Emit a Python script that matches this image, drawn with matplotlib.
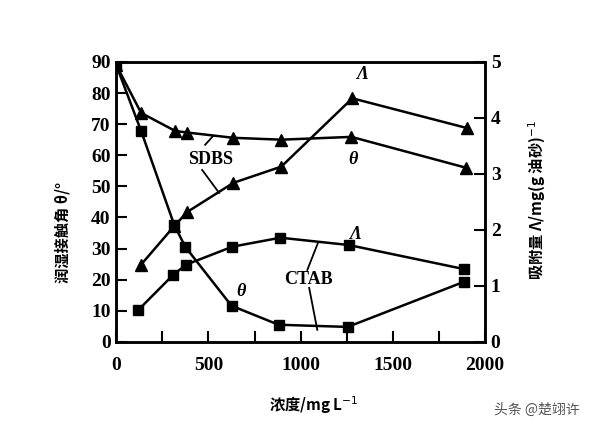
import matplotlib
matplotlib.use("Agg")
import matplotlib.pyplot as plt
from matplotlib.ticker import MultipleLocator

plt.rcParams['font.family'] = ['Liberation Serif', 'Noto Sans CJK SC', 'DejaVu Sans']

# concentration, mg/L
sdbs_x = [0, 135, 320, 385, 635, 895, 1275, 1895]
# SDBS contact angle (deg)
sdbs_theta = [89, 73.6, 67.8, 67.3, 65.6, 65.0, 65.9, 56.0]
# SDBS adsorption (mg/g), starts at first nonzero concentration
sdbs_lam_x = [135, 315, 385, 635, 895, 1280, 1900]
sdbs_lam = [1.38, 2.07, 2.32, 2.84, 3.13, 4.35, 3.82]

ctab_x = [0, 135, 315, 375, 625, 880, 1255, 1885]
ctab_theta = [89, 67.8, 37.5, 30.5, 11.6, 5.5, 4.8, 19.3]
ctab_lam_x = [120, 310, 380, 630, 890, 1260, 1885]
ctab_lam = [0.57, 1.2, 1.38, 1.70, 1.86, 1.73, 1.30]

fig = plt.figure(figsize=(5.96, 4.30), dpi=100)
ax = fig.add_axes([0.195, 0.205, 0.619, 0.651])
ax2 = ax.twinx()

lw = 1.8
ax.plot(sdbs_x, sdbs_theta, color='black', lw=lw, marker='^', ms=8)
ax.plot(ctab_x, ctab_theta, color='black', lw=lw, marker='s', ms=7)
ax2.plot(sdbs_lam_x, sdbs_lam, color='black', lw=lw, marker='^', ms=8)
ax2.plot(ctab_lam_x, ctab_lam, color='black', lw=lw, marker='s', ms=7)

ax.set_xlim(0, 2000)
ax.set_ylim(0, 90)
ax2.set_ylim(0, 5)
ax.xaxis.set_major_locator(MultipleLocator(500))
ax.xaxis.set_minor_locator(MultipleLocator(250))
ax.yaxis.set_major_locator(MultipleLocator(10))
ax2.yaxis.set_major_locator(MultipleLocator(1))

ax.tick_params(axis='both', which='both', direction='in', width=1.5)
ax.tick_params(axis='y', which='major', length=8, pad=4)
ax.tick_params(axis='x', which='both', length=8, pad=11, top=False)
ax2.tick_params(axis='y', direction='in', length=8, width=1.5, pad=4)
for lab in ax.get_xticklabels() + ax.get_yticklabels() + ax2.get_yticklabels():
    lab.set_fontsize(14)
    lab.set_fontweight('bold')

for sp in ax.spines.values():
    sp.set_linewidth(1.8)
for sp in ax2.spines.values():
    sp.set_linewidth(1.8)

# curve labels
ax.text(0.255, 0.65, 'SDBS', transform=ax.transAxes, fontsize=13,
        fontweight='bold', ha='center', va='center')
ax.text(0.52, 0.221, 'CTAB', transform=ax.transAxes, fontsize=13,
        fontweight='bold', ha='center', va='center')
ax.plot([0.241, 0.263], [0.704, 0.736], transform=ax.transAxes, color='black', lw=1.3)
ax.plot([0.233, 0.279], [0.614, 0.532], transform=ax.transAxes, color='black', lw=1.3)
ax.plot([0.518, 0.547], [0.257, 0.354], transform=ax.transAxes, color='black', lw=1.3)
ax.plot([0.523, 0.545], [0.193, 0.043], transform=ax.transAxes, color='black', lw=1.3)

for x, y, s in [(0.642, 0.65, 'θ'), (0.339, 0.179, 'θ'),
                (0.667, 0.954, 'Λ'), (0.648, 0.382, 'Λ')]:
    ax.text(x, y, s, transform=ax.transAxes, fontsize=13, fontweight='bold',
            fontstyle='italic', ha='center', va='center')

# axis titles
cjk = ['Noto Sans CJK SC', 'DejaVu Sans']
fig.text(62 / 596, 1 - 232 / 430, '润湿接触角 θ/°', rotation=90, fontsize=11,
         fontweight='bold', ha='center', va='center', family=cjk)
fig.text(537 / 596, 1 - 200 / 430, '吸附量 Λ/mg(g 油砂)$^{-1}$', rotation=90,
         fontsize=11, fontweight='bold', ha='center', va='center', family=cjk)
fig.text(314 / 596, 1 - 405 / 430, '浓度/mg L$^{-1}$', fontsize=11,
         fontweight='bold', ha='center', va='center', family=cjk)
fig.text(537 / 596, 1 - 410 / 430, '头条 @楚翊许', fontsize=10, color='#555555',
         ha='center', va='center', family=cjk)

fig.savefig('out.png', dpi=100)
